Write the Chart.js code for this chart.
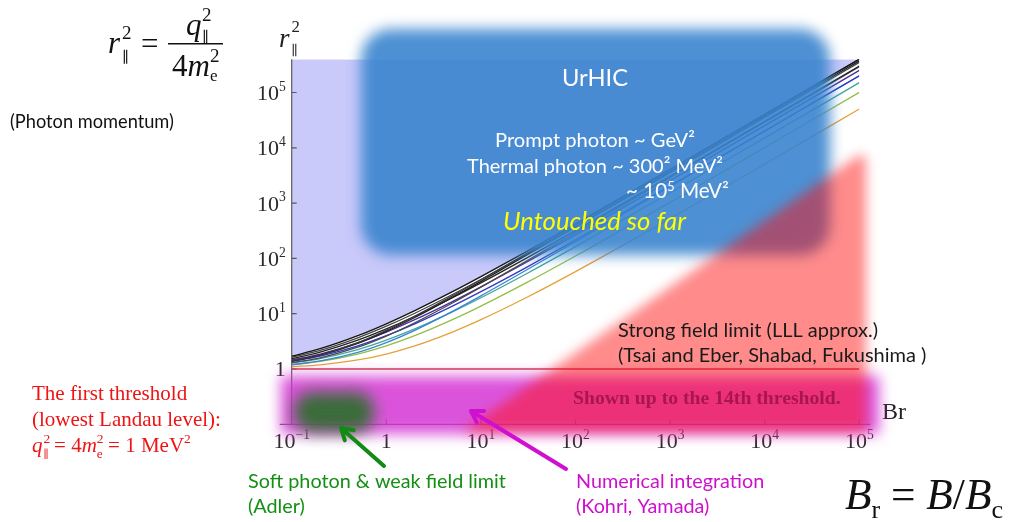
<!DOCTYPE html>
<html>
<head>
<meta charset="utf-8">
<script src="https://cdn.jsdelivr.net/npm/chart.js@4.4.0/dist/chart.umd.min.js"></script>
<style>
  html, body { margin: 0; padding: 0; background: #fff; overflow: hidden; }
  #wrap { width: 1024px; height: 522px; position: relative; }
</style>
</head>
<body>
<div id="wrap"><canvas id="c" width="1024" height="522"></canvas></div>
<script>
// Field strength Br = B/Bc at which each threshold curve is sampled
const fieldBr = [0.1, 0.2, 0.5, 1, 2, 5, 10, 30, 100, 1000, 10000, 100000];

// Pair-creation thresholds r∥² for Landau levels (n, n')
const thr01 = [1.098, 1.192, 1.457, 1.866, 2.618, 4.658, 7.791, 19.40, 57.59, 522.9, 5071, 50224];
const thr02 = [1.192, 1.371, 1.866, 2.618, 4.000, 7.791, 13.70, 36.00, 110.5, 1032, 10100, 100318];
const thr03 = [1.283, 1.542, 2.250, 3.323, 5.303, 10.78, 19.40, 52.23, 162.8, 1539, 15123, 150389];
const thr11 = [1.200, 1.400, 2.000, 3.000, 5.000, 11.00, 21.00, 61.00, 201.0, 2001, 20001, 200001];
const thr04 = [1.371, 1.706, 2.618, 4.000, 6.562, 13.70, 25.00, 68.26, 214.6, 2045, 20141, 200449];
const thr05 = [1.457, 1.866, 2.975, 4.658, 7.791, 16.57, 30.53, 84.17, 266.3, 2550, 25159, 250500];
const thr12 = [1.298, 1.594, 2.475, 3.937, 6.854, 15.60, 30.17, 88.45, 292.4, 2915, 29142, 291422];
const thr06 = [1.542, 2.022, 3.323, 5.303, 9.000, 19.40, 36.00, 100.0, 317.8, 3055, 30173, 300523];
const thr07 = [1.625, 2.175, 3.664, 5.937, 10.19, 22.21, 41.44, 115.8, 369.2, 3560, 35188, 350583];
const thr13 = [1.393, 1.777, 2.914, 4.792, 8.531, 19.73, 38.40, 113.0, 374.3, 3733, 37320, 373205];
const thr22 = [1.400, 1.800, 3.000, 5.000, 9.000, 21.00, 41.00, 121.0, 401.0, 4001, 40001, 400001];
const thr08 = [1.706, 2.325, 4.000, 6.562, 11.37, 25.00, 46.85, 131.5, 420.5, 4063, 40200, 400626];

// Lowest Landau level threshold r∥² = 1
const lllBr = [0.1, 100000];
const lllLevel = [1, 1];

// Axis ranges and decade ticks
const brRange = [0.1, 100000];
const r2Range = [0.1, 398000];
const brTicks = [0.1, 1, 10, 100, 1000, 10000, 100000];
const brTickBase = ['10', '1', '10', '10', '10', '10', '10'];
const brTickExp = ['\u22121', '', '1', '2', '3', '4', '5'];
const r2Ticks = [1, 10, 100, 1000, 10000, 100000];
const r2TickBase = ['1', '10', '10', '10', '10', '10'];
const r2TickExp = ['', '1', '2', '3', '4', '5'];

const SERIF = '"Liberation Serif", "DejaVu Serif", serif';
const SANS = 'Lato, "Open Sans", sans-serif';

function pts(ys) { return fieldBr.map((x, i) => ({ x, y: ys[i] })); }

function curve(ys, color, extra) {
  return Object.assign({
    data: pts(ys), borderColor: color, borderWidth: 1.3,
    pointRadius: 0, fill: false, cubicInterpolationMode: 'monotone'
  }, extra || {});
}

// rich text: segments with optional sup/sub/italic; fitted to a width if asked
function fontFor(s, size, o) {
  const sz = (s.sup || s.sub) ? size * (s.scale || 0.64) : size * (s.scale || 1);
  const it = (s.it !== undefined ? s.it : o.it) ? 'italic ' : '';
  const bd = (s.bold !== undefined ? s.bold : o.bold) ? 'bold ' : '';
  return it + bd + sz.toFixed(2) + 'px ' + (s.family || o.family);
}
function rich(ctx, segs, x, y, o) {
  const measure = size => {
    let w = 0;
    for (const s of segs) {
      ctx.font = fontFor(s, size, o);
      if (!s.stack) w += ctx.measureText(s.t).width + (s.kern || 0);
    }
    return w;
  };
  let size = o.size;
  if (o.width) size = size * o.width / measure(size);
  const total = measure(size);
  let cx = o.align === 'center' ? x - total / 2 : o.align === 'right' ? x - total : x;
  ctx.save();
  ctx.fillStyle = o.color;
  ctx.textAlign = 'left';
  ctx.textBaseline = 'alphabetic';
  for (const s of segs) {
    ctx.font = fontFor(s, size, o);
    const dy = s.sup ? -size * (s.raise || 0.4) : s.sub ? size * (s.drop || 0.22) : 0;
    ctx.fillText(s.t, cx + (s.kern || 0), y + dy);
    if (!s.stack) cx += ctx.measureText(s.t).width + (s.kern || 0);
  }
  ctx.restore();
  return size;
}

function arrow(ctx, x1, y1, x2, y2, color, w, head) {
  const a = Math.atan2(y2 - y1, x2 - x1);
  ctx.save();
  ctx.strokeStyle = color;
  ctx.lineWidth = w;
  ctx.lineCap = 'round';
  ctx.lineJoin = 'round';
  ctx.beginPath();
  ctx.moveTo(x1, y1);
  ctx.lineTo(x2, y2);
  ctx.moveTo(x2 - head * Math.cos(a - 0.55), y2 - head * Math.sin(a - 0.55));
  ctx.lineTo(x2, y2);
  ctx.lineTo(x2 - head * Math.cos(a + 0.55), y2 - head * Math.sin(a + 0.55));
  ctx.stroke();
  ctx.restore();
}

const decor = {
  id: 'decor',
  beforeDatasetsDraw(chart) {
    const ctx = chart.ctx, xs = chart.scales.x, ys = chart.scales.y, ca = chart.chartArea;
    const x0 = xs.getPixelForValue(brRange[0]);
    const yb = ys.getPixelForValue(r2Range[0]);
    ctx.save();
    ctx.strokeStyle = '#5a5a5a';
    ctx.lineWidth = 1.2;
    ctx.beginPath();
    ctx.moveTo(x0 - 12, yb); ctx.lineTo(xs.getPixelForValue(brRange[1]) + 11, yb);
    ctx.moveTo(x0, ca.top); ctx.lineTo(x0, yb);
    brTicks.forEach(v => {
      const px = xs.getPixelForValue(v);
      ctx.moveTo(px, yb); ctx.lineTo(px, yb - 5);
    });
    r2Ticks.forEach(v => {
      const py = ys.getPixelForValue(v);
      ctx.moveTo(x0, py); ctx.lineTo(x0 + 5, py);
    });
    ctx.stroke();
    ctx.restore();

    brTicks.forEach((v, i) => {
      const px = xs.getPixelForValue(v);
      const segs = [{ t: brTickBase[i] }];
      if (brTickExp[i]) segs.push({ t: brTickExp[i], sup: true, scale: 0.62, raise: 0.42 });
      rich(ctx, segs, px, yb + 24, { size: 22, family: SERIF, color: '#2a2a2a', align: 'center' });
    });
    r2Ticks.forEach((v, i) => {
      const py = ys.getPixelForValue(v);
      const segs = [{ t: r2TickBase[i] }];
      if (r2TickExp[i]) segs.push({ t: r2TickExp[i], sup: true, scale: 0.62, raise: 0.42 });
      rich(ctx, segs, x0 - 6, py + 7.5, { size: 22, family: SERIF, color: '#2a2a2a', align: 'right' });
    });

    // axis titles
    rich(ctx, [{ t: 'r', it: true }, { t: '2', sup: true, stack: true, kern: 2, raise: 0.55, scale: 0.62 },
               { t: '\u2225', sub: true, kern: 2, drop: 0.3, scale: 0.5 }],
         279, 47, { size: 27, family: SERIF, color: '#222' });
    rich(ctx, [{ t: 'Br' }], 882, 419, { size: 24, family: SERIF, color: '#222' });
  },
  afterDatasetsDraw(chart) {
    const ctx = chart.ctx;
    // heavy-ion collision region
    ctx.save();
    ctx.filter = 'blur(7px)';
    ctx.fillStyle = 'rgba(58,132,206,0.9)';
    ctx.beginPath();
    ctx.roundRect(361, 29, 469, 226, 30);
    ctx.fill();
    ctx.restore();

    // thresholds band below r∥² = 1
    ctx.save();
    ctx.filter = 'blur(7px)';
    ctx.fillStyle = 'rgba(213,55,213,0.86)';
    ctx.fillRect(281, 376, 598, 58);
    ctx.restore();

    // strong-field region
    ctx.save();
    ctx.filter = 'blur(6px)';
    ctx.fillStyle = 'rgba(255,12,12,0.48)';
    ctx.beginPath();
    ctx.moveTo(462, 432);
    ctx.lineTo(856, 157);
    ctx.quadraticCurveTo(866, 151, 866, 163);
    ctx.lineTo(866, 432);
    ctx.closePath();
    ctx.fill();
    ctx.restore();

    // soft photon / weak field corner
    ctx.save();
    ctx.filter = 'blur(8px)';
    ctx.fillStyle = 'rgb(58,108,58)';
    ctx.beginPath();
    ctx.roundRect(294, 392, 80, 40, 18);
    ctx.fill();
    ctx.restore();
  },
  afterDraw(chart) {
    const ctx = chart.ctx;
    // definition of r∥²
    const fs = 31, ink = '#111';
    rich(ctx, [{ t: 'r', it: true }], 108, 53, { size: fs, family: SERIF, color: ink });
    rich(ctx, [{ t: '2' }], 122, 39, { size: 19, family: SERIF, color: ink });
    rich(ctx, [{ t: '\u2225' }], 122, 62, { size: 15, family: SERIF, color: ink });
    rich(ctx, [{ t: '=' }], 141, 54, { size: fs, family: SERIF, color: ink });
    ctx.save(); ctx.fillStyle = ink; ctx.fillRect(168, 43, 55, 1.5); ctx.restore();
    rich(ctx, [{ t: 'q', it: true }], 186, 35, { size: fs, family: SERIF, color: ink });
    rich(ctx, [{ t: '2' }], 202, 21, { size: 19, family: SERIF, color: ink });
    rich(ctx, [{ t: '\u2225' }], 202, 42, { size: 15, family: SERIF, color: ink });
    rich(ctx, [{ t: '4' }, { t: 'm', it: true }], 172, 76, { size: fs, family: SERIF, color: ink });
    rich(ctx, [{ t: '2' }], 210, 62, { size: 19, family: SERIF, color: ink });
    rich(ctx, [{ t: 'e' }], 210, 81, { size: 17, family: SERIF, color: ink });

    rich(ctx, [{ t: '(Photon momentum)' }], 10, 128, { size: 16, width: 164, family: SANS, color: '#111' });

    // first threshold note
    const red = '#ee1414';
    rich(ctx, [{ t: 'The first threshold' }], 32, 400, { size: 21, family: SERIF, color: red });
    rich(ctx, [{ t: '(lowest Landau level):' }], 32, 426, { size: 21, family: SERIF, color: red });
    rich(ctx, [{ t: 'q', it: true }, { t: '2', sup: true, stack: true, kern: 1, raise: 0.45 },
               { t: '\u2225', sub: true, kern: 1, drop: 0.3, scale: 0.55 },
               { t: ' = 4' }, { t: 'm', it: true }, { t: '2', sup: true, stack: true, raise: 0.45 },
               { t: 'e', sub: true, drop: 0.3 }, { t: ' = 1 MeV' }, { t: '2', sup: true, raise: 0.45 }],
         32, 452, { size: 21, family: SERIF, color: red });

    // heavy-ion labels
    rich(ctx, [{ t: 'UrHIC' }], 595, 86, { size: 22, width: 66, family: SANS, color: '#fff', align: 'center' });
    rich(ctx, [{ t: 'Prompt photon ~ GeV\u00b2' }], 495, 147, { size: 17, width: 200, family: SANS, color: '#fff' });
    rich(ctx, [{ t: 'Thermal photon ~ 300\u00b2 MeV\u00b2' }], 467, 173, { size: 17, width: 256, family: SANS, color: '#fff' });
    rich(ctx, [{ t: '~ 10' }, { t: '5', sup: true, scale: 0.62, raise: 0.36 }, { t: ' MeV\u00b2' }],
         626, 198, { size: 17, width: 103, family: SANS, color: '#fff' });
    rich(ctx, [{ t: 'Untouched so far' }], 503, 230, { size: 20, width: 183, it: true, family: SANS, color: '#ffff00' });

    // strong field note
    const sf = rich(ctx, [{ t: 'Strong field limit (LLL approx.)' }], 618, 337, { size: 17, width: 260, family: SANS, color: '#1a1a1a' });
    rich(ctx, [{ t: '(Tsai and Eber, Shabad, Fukushima )' }], 618, 362, { size: sf, family: SANS, color: '#1a1a1a' });
    rich(ctx, [{ t: 'Shown up to the 14th threshold.' }], 573, 404, { size: 17, width: 268, bold: true, family: SERIF, color: '#a8164e' });

    // arrows and their notes
    arrow(ctx, 384, 466, 341, 428, '#138a13', 4, 13);
    arrow(ctx, 566, 469, 471, 411, '#d010d0', 4, 13);
    const green = '#139013';
    const gs = rich(ctx, [{ t: 'Soft photon & weak field limit' }], 248, 488, { size: 17, width: 258, family: SANS, color: green });
    rich(ctx, [{ t: '(Adler)' }], 248, 513, { size: gs, family: SANS, color: green });
    const mag = '#cc10cc';
    rich(ctx, [{ t: 'Numerical integration' }], 576, 488, { size: gs, family: SANS, color: mag });
    rich(ctx, [{ t: '(Kohri, Yamada)' }], 576, 513, { size: gs, family: SANS, color: mag });

    // reduced field definition
    rich(ctx, [{ t: 'B', it: true }, { t: 'r', sub: true, drop: 0.2, scale: 0.6 }, { t: ' = ' }, { t: 'B', it: true },
               { t: '/' }, { t: 'B', it: true }, { t: 'c', sub: true, drop: 0.2, scale: 0.6 }],
         845, 509, { size: 34, width: 158, family: SERIF, color: '#111' });
  }
};

const ctxMain = document.getElementById('c').getContext('2d');
new Chart(ctxMain, {
  type: 'line',
  data: {
    datasets: [
      curve(thr08, '#151515', { fill: 'end', backgroundColor: 'rgb(201,201,250)' }),
      curve(thr22, '#3a3a3a'),
      curve(thr13, '#1e1e1e'),
      curve(thr07, '#444444'),
      curve(thr06, '#222222'),
      curve(thr12, '#4a4a4a'),
      curve(thr05, '#4b2a9e'),
      curve(thr04, '#3237c8'),
      curve(thr11, '#3b84d4'),
      curve(thr03, '#3fa69b'),
      curve(thr02, '#93be46'),
      curve(thr01, '#e5a13a'),
      {
        data: lllBr.map((x, i) => ({ x, y: lllLevel[i] })),
        borderColor: '#d0384a', borderWidth: 1.6, pointRadius: 0, fill: false
      }
    ]
  },
  options: {
    responsive: false,
    devicePixelRatio: 1,
    animation: false,
    layout: { padding: { left: 291.7, right: 1024 - 859.3, top: 59.3, bottom: 522 - 424.3 } },
    scales: {
      x: { type: 'logarithmic', min: brRange[0], max: brRange[1], display: false },
      y: { type: 'logarithmic', min: r2Range[0], max: r2Range[1], display: false }
    },
    plugins: {
      legend: { display: false },
      tooltip: { enabled: false },
      filler: { drawTime: 'beforeDatasetsDraw' }
    }
  },
  plugins: [decor]
});
</script>
</body>
</html>
